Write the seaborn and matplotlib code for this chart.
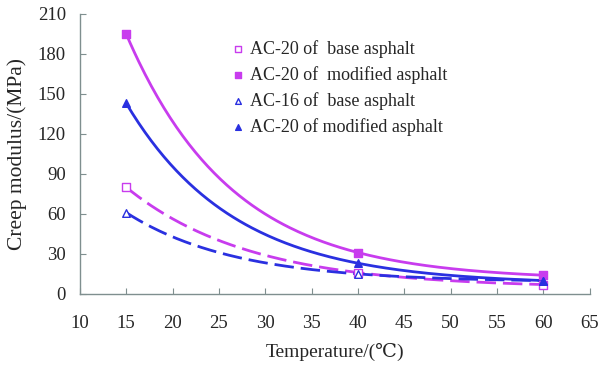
import numpy as np
import pandas as pd
import matplotlib
matplotlib.use("Agg")
import matplotlib.pyplot as plt
import seaborn as sns

# data
temps = [15, 40, 60]
ac20_base = [80, 16, 7]
ac20_mod = [195, 31, 14]
ac16_base = [61, 15, 10]
ac20_mod_b = [143, 23, 10]

labels = ["AC-20 of  base asphalt", "AC-20 of  modified asphalt",
          "AC-16 of  base asphalt", "AC-20 of modified asphalt"]
series = [ac20_base, ac20_mod, ac16_base, ac20_mod_b]

magenta = "#C83CEE"
blue = "#2A30E0"
colors = [magenta, magenta, blue, blue]
markers = ["s", "s", "^", "^"]
filled = [False, True, False, True]
dashed = [True, False, True, False]


def exp_fit(x, y):
    # y = c + a*exp(-k x) through the three points, c found by bisection
    x0, x1, x2 = x
    y0, y1, y2 = y

    def f(c):
        return (np.log((y0 - c) / (y1 - c)) / (x1 - x0)
                - np.log((y1 - c) / (y2 - c)) / (x2 - x1))

    lo, hi = 0.0, min(y) - 1e-6
    for _ in range(100):
        mid = (lo + hi) / 2
        if f(mid) > 0:
            lo = mid
        else:
            hi = mid
    c = (lo + hi) / 2
    k = np.log((y0 - c) / (y1 - c)) / (x1 - x0)
    a = (y0 - c) * np.exp(k * x0)
    return lambda t: c + a * np.exp(-k * t)


sns.set_style("white")
plt.rcParams["font.family"] = ["Liberation Serif", "DejaVu Serif"]

fig = plt.figure(figsize=(6, 3.66), dpi=100)
ax = fig.add_axes([0.133, 0.197, 0.85, 0.765])

xs = np.linspace(15, 60, 200)
handles = []
for lab, vals, c, m, f, d in zip(labels, series, colors, markers, filled, dashed):
    curve = exp_fit(temps, vals)
    fit = pd.DataFrame({"x": xs, "y": curve(xs)})
    sns.lineplot(data=fit, x="x", y="y", ax=ax, color=c, linewidth=2.0,
                 linestyle=(0, (7, 2.5)) if d else "-")
    h = ax.scatter(temps, vals, marker=m, s=30, zorder=3,
                   facecolors=c if f else "white", edgecolors=c, linewidths=1.0,
                   label=lab)
    handles.append(h)

ax.set_xlim(10, 65)
ax.set_ylim(0, 210)
ax.set_xticks(range(10, 66, 5))
ax.set_yticks(range(0, 211, 30))
ax.set_xlabel("Temperature/(\u2103)", fontsize=14, labelpad=8)
ax.set_ylabel("Creep modulus/(MPa)", fontsize=15.5, labelpad=8)
ax.tick_params(direction="in", length=4, color="#7f8f8f", labelsize=13.5,
               left=True, bottom=True)
ax.tick_params(axis="x", pad=15)
ax.tick_params(axis="y", pad=10)
for s in ["top", "right"]:
    ax.spines[s].set_visible(False)
for s in ["left", "bottom"]:
    ax.spines[s].set_color("#7f8f8f")
    ax.spines[s].set_linewidth(1.0)

ax.legend(handles=handles, labels=labels, loc="upper left",
          bbox_to_anchor=(0.26, 0.965), frameon=False, fontsize=13,
          handlelength=1.0, handletextpad=0.2, labelspacing=0.45,
          markerscale=0.75)

fig.savefig("out.png", dpi=100)
